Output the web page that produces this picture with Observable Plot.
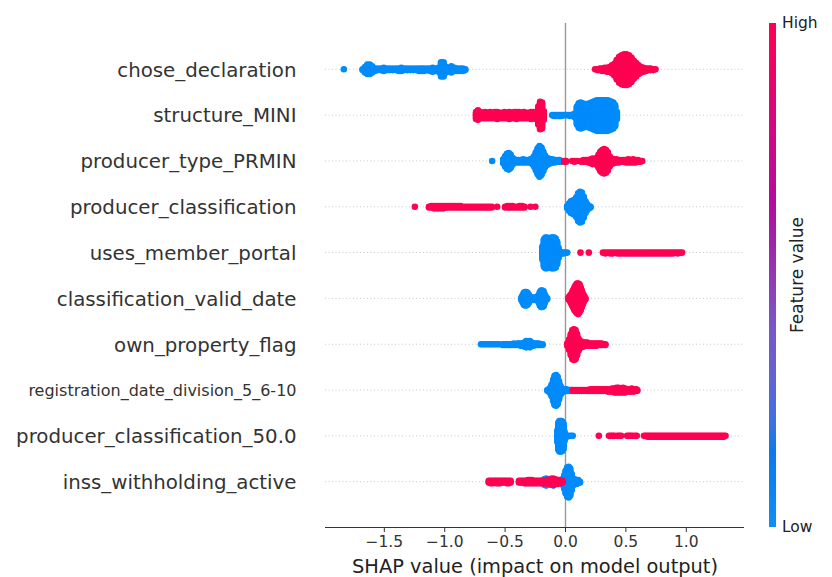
<!DOCTYPE html>
<html><head><meta charset="utf-8">
<script src="https://cdn.jsdelivr.net/npm/d3@7"></script>
<script src="https://cdn.jsdelivr.net/npm/@observablehq/plot@0.6"></script>
<style>
body{margin:0;background:#fff}
#chart{position:relative;width:832px;height:577px}
#chart g[aria-label="x-axis tick label"]{font-size:15.5px}
</style>
</head><body><div id="chart"></div>
<script>
// Feature names, top to bottom
const features = ["chose_declaration","structure_MINI","producer_type_PRMIN","producer_classification","uses_member_portal","classification_valid_date","own_property_flag","registration_date_division_5_6-10","producer_classification_50.0","inss_withholding_active"];
const xTicks = [-1.5,-1.0,-0.5,0.0,0.5,1.0];
const colorLabels = ["Low","High"];

// [SHAP value, number of samples stacked at that value]
const chose_declaration_low = [[-1.835,1],[-1.68,2],[-1.66,8],[-1.64,13],[-1.62,13],[-1.60,9],[-1.58,4],[-1.555,3],[-1.53,3],[-1.505,5],[-1.48,3],[-1.455,3],[-1.43,3],[-1.405,3],[-1.38,4],[-1.36,5],[-1.335,3],[-1.31,3],[-1.285,3],[-1.26,3],[-1.235,3],[-1.21,4],[-1.19,4],[-1.17,4],[-1.145,3],[-1.12,4],[-1.10,6],[-1.075,4],[-1.05,6],[-1.03,19],[-1.01,19],[-0.99,8],[-0.97,5],[-0.945,9],[-0.92,5],[-0.895,4],[-0.87,4],[-0.85,4],[-0.83,2]];
const chose_declaration_high = [[0.245,1],[0.265,2],[0.285,3],[0.305,4],[0.325,5],[0.345,6],[0.365,7],[0.385,11],[0.405,16],[0.425,26],[0.445,34],[0.465,38],[0.485,40],[0.505,40],[0.525,38],[0.545,32],[0.565,24],[0.585,18],[0.605,12],[0.625,8],[0.645,6],[0.665,4],[0.685,3],[0.705,3],[0.725,2],[0.745,1]];

const structure_MINI_low = [[-0.11,1],[-0.095,2],[-0.08,2],[-0.065,2],[-0.05,2],[-0.035,2],[-0.02,1],[-0.005,1],[0.01,1],[0.025,1],[0.04,2],[0.055,2],[0.068,3],[0.08,6],[0.095,24],[0.11,32],[0.125,34],[0.14,32],[0.155,30],[0.17,30],[0.185,30],[0.20,32],[0.215,34],[0.23,36],[0.245,38],[0.26,40],[0.275,40],[0.29,40],[0.305,40],[0.32,40],[0.335,40],[0.35,40],[0.365,38],[0.38,36],[0.395,34],[0.41,28],[0.425,10]];
const structure_MINI_high = [[-0.74,10],[-0.725,13],[-0.705,9],[-0.685,8],[-0.665,9],[-0.645,8],[-0.625,9],[-0.605,8],[-0.585,9],[-0.565,10],[-0.545,8],[-0.525,8],[-0.505,9],[-0.485,8],[-0.465,10],[-0.445,8],[-0.425,9],[-0.405,10],[-0.385,9],[-0.365,8],[-0.345,9],[-0.325,8],[-0.305,8],[-0.285,10],[-0.265,9],[-0.245,10],[-0.225,24],[-0.21,36],[-0.195,34],[-0.18,12]];

const producer_type_PRMIN_low = [[-0.607,1],[-0.515,6],[-0.50,14],[-0.485,20],[-0.47,22],[-0.455,18],[-0.44,10],[-0.425,5],[-0.41,4],[-0.39,4],[-0.37,4],[-0.35,5],[-0.33,4],[-0.31,4],[-0.29,5],[-0.275,8],[-0.26,14],[-0.245,24],[-0.23,34],[-0.215,40],[-0.20,36],[-0.185,26],[-0.17,16],[-0.155,10],[-0.14,8],[-0.125,6],[-0.11,5],[-0.09,4],[-0.07,3],[-0.05,3],[-0.03,2]];
const producer_type_PRMIN_high = [[-0.01,2],[0.005,2],[0.055,1],[0.075,2],[0.095,1],[0.13,2],[0.15,3],[0.17,3],[0.19,4],[0.21,6],[0.225,8],[0.24,6],[0.26,10],[0.275,18],[0.29,26],[0.305,30],[0.32,32],[0.335,30],[0.35,24],[0.365,14],[0.38,8],[0.40,6],[0.42,5],[0.44,4],[0.46,3],[0.48,3],[0.50,4],[0.52,5],[0.54,4],[0.56,5],[0.58,4],[0.60,3],[0.62,2],[0.635,1]];

const producer_classification_low = [[0.015,4],[0.03,10],[0.045,16],[0.06,18],[0.075,20],[0.09,26],[0.105,36],[0.12,40],[0.135,38],[0.15,28],[0.165,16],[0.18,8],[0.195,4],[0.207,2]];
const producer_classification_high = [[-1.247,1],[-1.13,2],[-1.11,3],[-1.09,4],[-1.07,4],[-1.05,4],[-1.03,4],[-1.01,4],[-0.99,3],[-0.97,3],[-0.95,3],[-0.93,3],[-0.91,3],[-0.89,3],[-0.87,3],[-0.85,2],[-0.83,2],[-0.81,2],[-0.79,2],[-0.77,2],[-0.75,2],[-0.73,2],[-0.71,2],[-0.69,2],[-0.67,2],[-0.65,2],[-0.63,2],[-0.61,2],[-0.566,1],[-0.50,2],[-0.48,3],[-0.46,3],[-0.44,3],[-0.42,2],[-0.40,2],[-0.38,3],[-0.36,3],[-0.34,2],[-0.29,1],[-0.25,1]];

const uses_member_portal_low = [[-0.19,18],[-0.178,36],[-0.166,40],[-0.154,40],[-0.142,38],[-0.13,36],[-0.118,40],[-0.106,40],[-0.094,40],[-0.082,38],[-0.07,30],[-0.058,14],[-0.045,4],[-0.03,2],[-0.015,2],[0.0,1],[0.014,1]];
const uses_member_portal_high = [[0.124,1],[0.193,1],[0.31,1],[0.33,2],[0.35,1],[0.37,2],[0.39,2],[0.41,1],[0.43,2],[0.45,2],[0.47,2],[0.49,2],[0.51,2],[0.53,2],[0.55,2],[0.57,2],[0.59,2],[0.61,2],[0.63,2],[0.65,2],[0.67,2],[0.69,2],[0.71,2],[0.73,2],[0.75,2],[0.77,2],[0.79,2],[0.81,2],[0.83,2],[0.85,2],[0.87,2],[0.89,2],[0.91,1],[0.93,2],[0.95,1],[0.965,1]];

const classification_valid_date_low = [[-0.365,4],[-0.355,10],[-0.345,16],[-0.335,18],[-0.325,18],[-0.315,16],[-0.305,12],[-0.295,6],[-0.28,4],[-0.265,4],[-0.25,4],[-0.235,5],[-0.222,10],[-0.212,18],[-0.202,22],[-0.192,22],[-0.182,20],[-0.172,12],[-0.162,5],[-0.152,2]];
const classification_valid_date_high = [[0.025,3],[0.035,7],[0.045,12],[0.055,18],[0.065,24],[0.075,30],[0.085,35],[0.095,39],[0.105,40],[0.115,37],[0.125,30],[0.135,22],[0.145,14],[0.155,7],[0.165,2]];

const own_property_flag_low = [[-0.70,1],[-0.685,1],[-0.67,1],[-0.655,1],[-0.64,1],[-0.625,1],[-0.61,1],[-0.595,1],[-0.58,1],[-0.565,1],[-0.55,1],[-0.52,2],[-0.505,2],[-0.49,2],[-0.475,2],[-0.46,2],[-0.445,2],[-0.43,3],[-0.415,2],[-0.40,3],[-0.385,3],[-0.37,4],[-0.355,4],[-0.34,6],[-0.325,9],[-0.31,7],[-0.295,9],[-0.28,5],[-0.265,4],[-0.25,3],[-0.235,3],[-0.22,3],[-0.205,2],[-0.19,2]];
const own_property_flag_high = [[0.015,4],[0.03,14],[0.045,28],[0.058,38],[0.07,40],[0.082,38],[0.095,28],[0.108,16],[0.12,10],[0.135,7],[0.15,6],[0.165,5],[0.18,5],[0.195,4],[0.21,4],[0.225,4],[0.24,4],[0.255,4],[0.27,3],[0.285,3],[0.30,3],[0.315,2],[0.33,2]];

const registration_date_division_low = [[-0.15,2],[-0.138,4],[-0.126,8],[-0.114,16],[-0.102,28],[-0.09,38],[-0.078,40],[-0.066,36],[-0.054,24],[-0.042,12],[-0.03,6],[-0.018,4],[-0.006,3],[0.006,3],[0.018,2],[0.03,2],[0.042,2],[0.052,2]];
const registration_date_division_high = [[0.062,2],[0.08,2],[0.098,2],[0.116,2],[0.134,2],[0.152,2],[0.17,2],[0.188,2],[0.206,3],[0.224,3],[0.242,3],[0.26,3],[0.278,3],[0.296,3],[0.314,3],[0.332,3],[0.35,4],[0.368,4],[0.386,5],[0.404,6],[0.422,7],[0.44,7],[0.458,6],[0.476,7],[0.494,6],[0.512,4],[0.53,4],[0.548,5],[0.566,4],[0.584,3],[0.594,2]];

const producer_classification_50_low = [[-0.066,16],[-0.058,36],[-0.05,40],[-0.042,40],[-0.034,40],[-0.026,38],[-0.018,34],[-0.01,14],[0.0,4],[0.01,2],[0.028,1],[0.045,1],[0.06,1]];
const producer_classification_50_high = [[0.276,1],[0.36,1],[0.375,1],[0.39,1],[0.405,1],[0.43,1],[0.445,1],[0.46,1],[0.51,1],[0.525,1],[0.54,1],[0.555,1],[0.575,1],[0.59,1],[0.65,1],[0.665,1],[0.68,2],[0.695,2],[0.71,2],[0.725,2],[0.74,2],[0.755,2],[0.77,2],[0.785,2],[0.80,2],[0.815,2],[0.83,2],[0.845,2],[0.86,2],[0.875,2],[0.89,2],[0.905,2],[0.92,2],[0.935,2],[0.95,2],[0.965,2],[0.98,2],[0.995,2],[1.01,2],[1.025,2],[1.04,2],[1.055,2],[1.07,2],[1.085,2],[1.10,2],[1.115,2],[1.13,2],[1.145,2],[1.16,2],[1.175,2],[1.19,2],[1.205,2],[1.22,2],[1.235,2],[1.25,2],[1.265,2],[1.28,2],[1.295,2],[1.31,2],[1.325,1]];

const inss_withholding_active_low = [[-0.19,3],[-0.175,8],[-0.16,10],[-0.145,6],[-0.13,4],[-0.115,9],[-0.10,10],[-0.085,5],[-0.07,4],[-0.055,4],[-0.04,5],[-0.025,8],[-0.01,18],[0.002,30],[0.014,38],[0.026,40],[0.038,36],[0.05,22],[0.062,10],[0.075,7],[0.09,6],[0.105,5],[0.12,2]];
const inss_withholding_active_high = [[-0.635,3],[-0.62,4],[-0.605,4],[-0.59,3],[-0.575,4],[-0.56,4],[-0.545,4],[-0.53,3],[-0.515,3],[-0.50,3],[-0.485,4],[-0.47,4],[-0.455,3],[-0.385,3],[-0.37,3],[-0.355,3],[-0.34,4],[-0.325,4],[-0.31,5],[-0.295,5],[-0.28,5],[-0.265,4],[-0.25,4],[-0.235,4],[-0.22,4],[-0.205,4],[-0.19,4],[-0.175,4],[-0.16,5],[-0.145,6],[-0.13,7],[-0.115,8],[-0.10,8],[-0.085,7],[-0.07,6],[-0.055,5],[-0.04,4],[-0.025,3]];

const rowData = [
  [chose_declaration_low, chose_declaration_high],
  [structure_MINI_low, structure_MINI_high],
  [producer_type_PRMIN_low, producer_type_PRMIN_high],
  [producer_classification_low, producer_classification_high],
  [uses_member_portal_low, uses_member_portal_high],
  [classification_valid_date_low, classification_valid_date_high],
  [own_property_flag_low, own_property_flag_high],
  [registration_date_division_low, registration_date_division_high],
  [producer_classification_50_low, producer_classification_50_high],
  [inss_withholding_active_low, inss_withholding_active_high]
];

const BLUE = "#008bfb", RED = "#ff0052";
// colour-bar ramp (low -> high), as seen in the reference colour bar
const rampColors = ["#108ef8", "#0a7ae8", "#3a72e0", "#6462d2", "#7a55c8", "#9438b4", "#a818a4", "#b40c9c", "#d40880", "#ff0052"];
const rampStops = [0, 0.15, 0.2, 0.3, 0.4, 0.5, 0.6, 0.65, 0.8, 1];

// SHAP-style beeswarm layering: stack samples within each value, alternate up/down, normalise per row
const points = [];
rowData.forEach(([low, high], i) => {
  const pts = [];
  [[low, colorLabels[0]], [high, colorLabels[1]]].forEach(([grp, level]) => {
    grp.forEach(([v, c]) => {
      for (let k = 0; k < c; k++) {
        pts.push({feature: features[i], row: i, shap: v, level, layer: Math.ceil(k / 2) * (k % 2 ? 1 : -1)});
      }
    });
  });
  const H = d3.max(pts, p => p.layer);
  pts.forEach(p => { p.y = i + p.layer * 0.9 * 0.4 / (H + 1); });
  points.push(...pts);
});

const fmt = d => (d < 0 ? "\u2212" : "") + Math.abs(d).toFixed(1);
const labelSize = f => f.length > 30 ? 16 : 19.8;

const plot = Plot.plot({
  width: 832, height: 577,
  marginLeft: 325, marginRight: 88, marginTop: 23, marginBottom: 50,
  x: {domain: [-1.987, 1.482]},
  y: {domain: [-1, features.length], reverse: true, axis: null},
  color: {domain: colorLabels, range: [BLUE, RED]},
  style: {fontFamily: "DejaVu Sans", color: "#333", background: "white", overflow: "visible"},
  marks: [
    Plot.ruleY(features, {y: (d, i) => i, stroke: "#c8c8c8", strokeWidth: 1, strokeDasharray: "1,2.5"}),
    Plot.ruleX([0], {stroke: "#999", strokeWidth: 1.4}),
    Plot.dot(points, {x: "shap", y: "y", r: 3.3, fill: "level", stroke: null}),
    Plot.text(features, {y: (d, i) => i, text: d => d, frameAnchor: "left", textAnchor: "end", dx: -29, dy: 1, fontSize: d => labelSize(d), fill: "#333"}),
    Plot.ruleY([features.length], {stroke: "#333", strokeWidth: 1}),
    Plot.axisX({ticks: xTicks, tickFormat: fmt, tickSize: 5, tickPadding: 3, fontSize: 15.5, label: null, stroke: "#333", fill: "#333"}),
    Plot.text(["SHAP value (impact on model output)"], {frameAnchor: "bottom", dy: 39, lineAnchor: "middle", fontSize: 19.4, fill: "#222"})
  ]
});

document.getElementById("chart").appendChild(plot);

// Colour bar legend (feature value)
const svg = d3.select(plot);
const yScale = plot.scale("y");
const cbTop = yScale.apply(-1), cbBottom = yScale.apply(features.length);
const grad = svg.append("defs").append("linearGradient").attr("id", "cbgrad")
  .attr("x1", 0).attr("y1", 1).attr("x2", 0).attr("y2", 0);
rampColors.forEach((c, k) => grad.append("stop").attr("offset", rampStops[k]).attr("stop-color", c));
const cbx = 769;
svg.append("rect").attr("x", cbx).attr("y", cbTop).attr("width", 7).attr("height", cbBottom - cbTop).attr("fill", "url(#cbgrad)");
const lg = svg.append("g").attr("font-family", "DejaVu Sans").attr("fill", "#222");
lg.append("text").attr("x", cbx + 13).attr("y", cbTop).attr("dy", "0.35em").attr("text-anchor", "start").attr("font-size", 15.5).text(colorLabels[1]);
lg.append("text").attr("x", cbx + 13).attr("y", cbBottom).attr("dy", "0.35em").attr("text-anchor", "start").attr("font-size", 15.5).text(colorLabels[0]);
lg.append("text").attr("transform", `translate(${cbx + 28},${(cbTop + cbBottom) / 2}) rotate(-90)`)
  .attr("text-anchor", "middle").attr("dy", "0.35em").attr("font-size", 17).text("Feature value");
</script>
</body></html>
